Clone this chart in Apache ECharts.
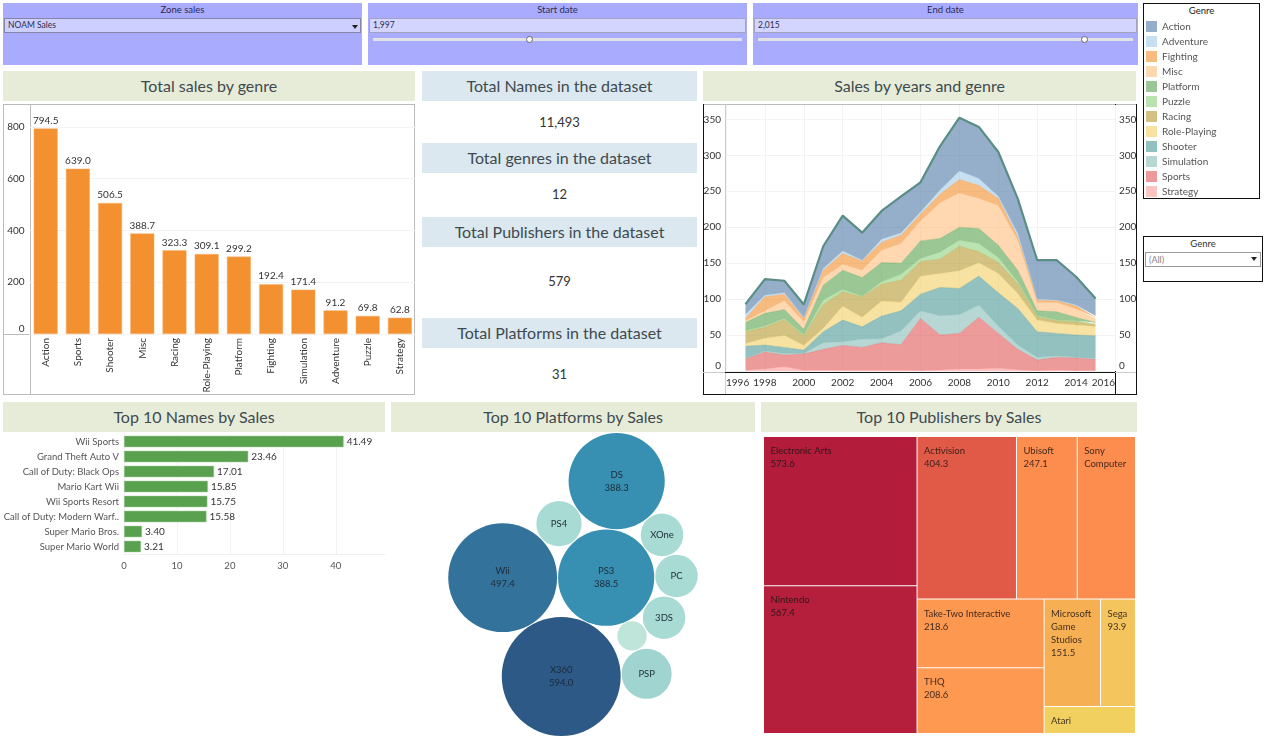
<!DOCTYPE html>
<html>
<head>
<meta charset="utf-8">
<title>Video game sales dashboard</title>
<script src="https://cdn.jsdelivr.net/npm/echarts@6/dist/echarts.min.js"></script>
<style>
  html, body { margin: 0; padding: 0; background: #fff; }
  body { width: 1266px; height: 737px; position: relative; overflow: hidden; font-family: Lato, sans-serif; color: #333; }
  #chart { position: absolute; left: 0; top: 0; width: 1266px; height: 737px; }
  .box { position: absolute; box-sizing: border-box; }
  .head { position: absolute; box-sizing: border-box; text-align: center; font-size: 16px; line-height: 30px; height: 30px; color: #3f4a50; }
  .green { background: #e7ecd9; }
  .blue { background: #dbe8ef; }
  .kpi { position: absolute; left: 422px; width: 275px; text-align: center; font-size: 13px; line-height: 16px; color: #333; }
  .card { position: absolute; top: 3px; height: 62px; background: #a9abff; }
  .card .name { text-align: center; font-size: 9.5px; line-height: 14px; color: #2b2b4d; }
  .field { position: absolute; box-sizing: border-box; height: 15px; top: 15px; font-size: 8.5px; line-height: 13px; padding-left: 3px; color: #2b2b4d; }
  .track { position: absolute; top: 35px; height: 3px; background: #e2e2e2; }
  .handle { position: absolute; top: 33px; width: 7px; height: 7px; box-sizing: border-box; border: 1px solid #666; border-radius: 50%; background: #fff; }
  .arrow { position: absolute; width: 0; height: 0; border-left: 3px solid transparent; border-right: 3px solid transparent; border-top: 4px solid #222; }
</style>
</head>
<body>

<!-- filter cards -->
<div class="card" style="left:3px;width:359px">
  <div class="name">Zone sales</div>
  <div class="field" style="left:1px;width:357px;background:#cdcfff;border:1px solid #8585a8">NOAM Sales</div>
  <div class="arrow" style="left:349px;top:22px"></div>
</div>
<div class="card" style="left:368px;width:379px">
  <div class="name">Start date</div>
  <div class="field" style="left:1px;width:377px;background:#d4d5ff;border:1px solid #a2a2c4">1,997</div>
  <div class="track" style="left:5px;width:369px"></div>
  <div class="handle" style="left:158px"></div>
</div>
<div class="card" style="left:753px;width:385px">
  <div class="name">End date</div>
  <div class="field" style="left:1px;width:383px;background:#d4d5ff;border:1px solid #a2a2c4">2,015</div>
  <div class="track" style="left:5px;width:375px"></div>
  <div class="handle" style="left:328px"></div>
</div>

<!-- genre legend frame and genre filter -->
<div class="box" style="left:1143px;top:3px;width:117px;height:196px;border:1px solid #111"></div>
<div class="box" style="left:1143px;top:4px;width:117px;text-align:center;font-size:9.5px;line-height:14px;color:#222">Genre</div>
<div class="box" style="left:1143px;top:236px;width:120px;height:46px;border:1px solid #111"></div>
<div class="box" style="left:1143px;top:237px;width:120px;text-align:center;font-size:9.5px;line-height:14px;color:#333">Genre</div>
<div class="box" style="left:1145px;top:252px;width:116px;height:15px;border:1px solid #999;font-size:9px;line-height:13px;padding-left:3px;color:#888">(All)</div>
<div class="arrow" style="left:1251px;top:257px"></div>

<!-- section headers -->
<div class="head green" style="left:3px;top:71px;width:412px">Total sales by genre</div>
<div class="head green" style="left:703px;top:71px;width:433px">Sales by years and genre</div>
<div class="head green" style="left:3px;top:402px;width:382px">Top 10 Names by Sales</div>
<div class="head green" style="left:391px;top:402px;width:364px">Top 10 Platforms by Sales</div>
<div class="head green" style="left:761px;top:402px;width:376px">Top 10 Publishers by Sales</div>
<div class="head blue" style="left:422px;top:71px;width:275px">Total Names in the dataset</div>
<div class="head blue" style="left:422px;top:143px;width:275px">Total genres in the dataset</div>
<div class="head blue" style="left:422px;top:217px;width:275px">Total Publishers in the dataset</div>
<div class="head blue" style="left:422px;top:318px;width:275px">Total Platforms in the dataset</div>
<div class="kpi" style="top:114px">11,493</div>
<div class="kpi" style="top:186px">12</div>
<div class="kpi" style="top:273px">579</div>
<div class="kpi" style="top:366px">31</div>

<!-- table panes behind the first bar chart -->
<div class="box" style="left:3px;top:104px;width:412px;height:291px;border:1px solid #bbb"></div>
<div class="box" style="left:30px;top:104px;width:1px;height:291px;background:#bbb"></div>
<div class="box" style="left:3px;top:334px;width:412px;height:1px;background:#bbb"></div>

<!-- table panes behind the area chart -->
<div class="box" style="left:703px;top:104px;width:434px;height:1px;background:#bbb"></div>
<div class="box" style="left:703px;top:104px;width:1px;height:291px;background:#111"></div>
<div class="box" style="left:1136px;top:104px;width:1px;height:291px;background:#111"></div>
<div class="box" style="left:1115px;top:104px;width:1px;height:291px;background:#111"></div>
<div class="box" style="left:725px;top:104px;width:1px;height:291px;background:#ccc"></div>
<div class="box" style="left:725px;top:372px;width:390px;height:1px;background:#111"></div>
<div class="box" style="left:703px;top:394px;width:434px;height:1px;background:#111"></div>
<div class="box" style="left:703px;top:372px;width:22px;height:1px;background:#ccc"></div>
<div class="box" style="left:1115px;top:372px;width:21px;height:1px;background:#ccc"></div>

<div id="chart"></div>

<script>
// total sales by genre
var barGenres = ['Action', 'Sports', 'Shooter', 'Misc', 'Racing', 'Role-Playing', 'Platform', 'Fighting', 'Simulation', 'Adventure', 'Puzzle', 'Strategy'];
var barSales = [794.5, 639.0, 506.5, 388.7, 323.3, 309.1, 299.2, 192.4, 171.4, 91.2, 69.8, 62.8];

// sales by year, one list per genre
var axisYears = ['1996', '1997', '1998', '1999', '2000', '2001', '2002', '2003', '2004', '2005', '2006', '2007', '2008', '2009', '2010', '2011', '2012', '2013', '2014', '2015', '2016'];
var years = ['1997', '1998', '1999', '2000', '2001', '2002', '2003', '2004', '2005', '2006', '2007', '2008', '2009', '2010', '2011', '2012', '2013', '2014', '2015'];
var actionSales = [14.4, 22.7, 16.7, 18.1, 31.0, 49.1, 38.4, 39.4, 50.9, 41.2, 61.1, 74.1, 71.8, 61.6, 48.6, 54.2, 55.6, 39.4, 24.1];
var adventureSales = [5.6, 1.9, 1.9, 1.4, 2.3, 3.7, 0.9, 4.2, 3.2, 3.2, 5.6, 12.0, 9.7, 3.2, 4.6, 1.4, 0.9, 1.4, 2.3];
var fightingSales = [3.2, 19.4, 9.3, 4.6, 10.2, 14.8, 13.0, 11.1, 11.6, 9.3, 12.0, 18.5, 18.1, 9.7, 4.6, 3.2, 2.3, 4.2, 2.3];
var miscSales = [2.3, 3.7, 12.0, 10.6, 10.6, 8.3, 10.2, 17.1, 27.3, 27.8, 49.5, 47.7, 41.7, 55.1, 41.7, 11.6, 13.0, 11.6, 4.6];
var platformSales = [11.6, 17.6, 12.5, 7.9, 20.8, 26.9, 25.9, 26.9, 15.3, 24.5, 19.0, 18.1, 20.8, 17.1, 16.2, 6.9, 11.6, 4.6, 1.9];
var puzzleSales = [1.4, 1.9, 1.4, 1.4, 6.0, 3.2, 0.9, 3.2, 8.3, 4.2, 9.7, 8.3, 11.6, 6.9, 2.3, 1.4, 0.9, 1.4, 0.9];
var racingSales = [16.2, 15.3, 22.2, 13.0, 33.3, 19.9, 28.2, 23.6, 30.6, 20.4, 19.9, 34.3, 15.3, 15.3, 13.9, 4.6, 3.7, 4.6, 2.8];
var rolePlayingSales = [3.7, 9.3, 16.7, 6.5, 4.6, 19.4, 13.4, 20.8, 12.0, 25.0, 19.4, 24.5, 18.5, 26.9, 20.8, 16.2, 13.9, 13.9, 13.0];
var shooterSales = [17.1, 8.3, 8.3, 4.6, 15.3, 30.1, 17.1, 31.5, 27.8, 23.1, 39.4, 36.1, 40.3, 46.3, 50.9, 35.6, 31.0, 31.0, 31.9];
var simulationSales = [0.9, 1.4, 2.3, 0.9, 9.3, 5.1, 11.6, 5.6, 19.4, 10.6, 26.9, 26.4, 17.1, 10.2, 6.0, 3.7, 2.3, 0.9, 0.9];
var sportsSales = [15.7, 23.6, 16.2, 22.7, 28.7, 34.7, 31.9, 38.4, 35.6, 72.7, 48.6, 49.5, 71.8, 48.6, 28.2, 14.8, 17.6, 17.6, 15.7];
var strategySales = [0.9, 2.8, 6.0, 0.9, 1.4, 0.9, 0.9, 0.9, 0.9, 0.5, 1.4, 2.8, 2.8, 3.7, 1.9, 0.5, 1.4, 0.5, 0.5];
var genreNames = ['Action', 'Adventure', 'Fighting', 'Misc', 'Platform', 'Puzzle', 'Racing', 'Role-Playing', 'Shooter', 'Simulation', 'Sports', 'Strategy'];
var genreSales = [actionSales, adventureSales, fightingSales, miscSales, platformSales, puzzleSales, racingSales, rolePlayingSales, shooterSales, simulationSales, sportsSales, strategySales];

// top names
var gameNames = ['Wii Sports', 'Grand Theft Auto V', 'Call of Duty: Black Ops', 'Mario Kart Wii', 'Wii Sports Resort', 'Call of Duty: Modern Warf..', 'Super Mario Bros.', 'Super Mario World'];
var gameSales = [41.49, 23.46, 17.01, 15.85, 15.75, 15.58, 3.40, 3.21];

// top platforms (the smallest bubble has no readable name in the picture)
var platformNames = ['Wii', 'PS3', 'X360', 'PS4', 'DS', 'XOne', 'PC', '3DS', '', 'PSP'];
var platformValues = [497.4, 388.5, 594.0, 86, 388.3, 76, 76, 76, 36, 105];

// top publishers (Sony Computer and Atari print no number, those two are estimated)
var publisherNames = ['Electronic Arts', 'Nintendo', 'Activision', 'Ubisoft', 'Sony Computer', 'Take-Two Interactive', 'THQ', 'Microsoft Game Studios', 'Sega', 'Atari'];
var publisherValues = [573.6, 567.4, 404.3, 247.1, 237, 218.6, 208.6, 151.5, 93.9, 62];

// styles
var FONT = 'Lato, sans-serif';
var GRID_LINE = '#f3f3f3';
var genreColors = ['#4e79a7', '#a0cbe8', '#f28e2b', '#ffbe7d', '#59a14f', '#8cd17d', '#b6992d', '#f1ce63', '#499894', '#86bcb6', '#e15759', '#ff9d9a'];
var legendColors = ['#94aecb', '#c6e0f1', '#f7bb80', '#ffd8b1', '#9bc796', '#bae3b1', '#d3c181', '#f7e2a1', '#92c1be', '#b6d7d3', '#ed9a9b', '#ffc4c2'];
var publisherColors = ['#b31c3b', '#b51f3c', '#e05a47', '#fc8d4e', '#fc8d4e', '#fd9850', '#fd9950', '#f6b053', '#f4c55d', '#f2d060'];
var bubbleColors = ['#33739b', '#3790b2', '#2d5986', '#a9dbd5', '#3790b2', '#a9dbd5', '#a9dbd5', '#a9dbd5', '#bfe4da', '#9fd4d0'];

// packed bubbles: radius from the value, each bubble placed touching two earlier ones
var BUBBLE_SCALE = 2.44;
var BUBBLE_GAP = 0.5;
var packOrder = [[3, 0, 1, 1], [2, 0, 1, -1], [4, 3, 1, 1], [5, 4, 1, 1], [6, 5, 1, 1], [7, 6, 1, 1], [8, 7, 1, 1], [9, 8, 2, 1]];

function bubbleRadius(value) {
    return BUBBLE_SCALE * Math.sqrt(value);
}

function packBubbles(values) {
    var circles = [];
    var r = values.map(function (v) { return bubbleRadius(v) + BUBBLE_GAP; });
    circles[0] = {x: 0, y: 0, r: r[0]};
    circles[1] = {x: r[0] + r[1], y: 0, r: r[1]};
    packOrder.forEach(function (step) {
        var a = circles[step[1]], b = circles[step[2]], rn = r[step[0]];
        var d = Math.hypot(b.x - a.x, b.y - a.y);
        var ux = (b.x - a.x) / d, uy = (b.y - a.y) / d;
        var da = a.r + rn, db = b.r + rn;
        var along = (da * da - db * db + d * d) / (2 * d);
        var h = Math.sqrt(Math.max(da * da - along * along, 0)) * step[3];
        circles[step[0]] = {x: a.x + along * ux - h * uy, y: a.y + along * uy + h * ux, r: rn};
    });
    // centre the cluster on the axes
    var x0 = Math.min.apply(null, circles.map(function (c) { return c.x - c.r; }));
    var x1 = Math.max.apply(null, circles.map(function (c) { return c.x + c.r; }));
    var y0 = Math.min.apply(null, circles.map(function (c) { return c.y - c.r; }));
    var y1 = Math.max.apply(null, circles.map(function (c) { return c.y + c.r; }));
    return circles.map(function (c) {
        return [c.x - (x0 + x1) / 2, c.y - (y0 + y1) / 2];
    });
}

var bubblePoints = packBubbles(platformValues);
var bubbleData = platformValues.map(function (v, i) {
    return {
        name: platformNames[i],
        value: [bubblePoints[i][0], bubblePoints[i][1], v],
        itemStyle: {color: bubbleColors[i]}
    };
});

// treemap leaves, nested so that the rows fall like the reference
function publisherLeaf(i) {
    var wrapped = publisherNames[i].replace('Sony Computer', 'Sony\nComputer').replace('Microsoft Game Studios', 'Microsoft\nGame\nStudios');
    var hasNumber = i !== 4 && i !== 9;
    return {
        name: publisherNames[i],
        value: publisherValues[i],
        itemStyle: {color: publisherColors[i]},
        label: {formatter: hasNumber ? wrapped + '\n' + publisherValues[i].toFixed(1) : wrapped}
    };
}

var publisherTree = [
    publisherLeaf(0), publisherLeaf(1),
    {name: 'rest', children: [
        publisherLeaf(2), publisherLeaf(3), publisherLeaf(4),
        {name: 'lower', children: [
            publisherLeaf(5), publisherLeaf(6),
            {name: 'corner', children: [publisherLeaf(7), publisherLeaf(8), publisherLeaf(9)]}
        ]}
    ]}
];

// stacked areas, Strategy at the bottom
var areaSeries = genreNames.map(function (name, i) {
    return {
        name: name,
        type: 'line',
        stack: 'sales',
        xAxisIndex: 1,
        yAxisIndex: 1,
        symbol: 'none',
        silent: true,
        data: axisYears.map(function (year) {
            var j = years.indexOf(year);
            return j < 0 ? null : genreSales[i][j];
        }),
        lineStyle: i === 0 ? {color: '#5a8d85', width: 2.2} : {color: genreColors[i], width: 0.6, opacity: 0.5},
        itemStyle: {color: genreColors[i]},
        areaStyle: {color: genreColors[i], opacity: 0.6}
    };
}).reverse();

var smallAxisText = {fontFamily: FONT, fontSize: 10, color: '#333'};

var option = {
    animation: false,
    textStyle: {fontFamily: FONT},
    legend: {
        left: 1146,
        top: 21,
        padding: 0,
        orient: 'vertical',
        itemWidth: 11,
        itemHeight: 11,
        itemGap: 4,
        selectedMode: false,
        textStyle: {fontFamily: FONT, fontSize: 10, color: '#555'},
        data: genreNames.map(function (name, i) {
            return {name: name, icon: 'rect', itemStyle: {color: legendColors[i], opacity: 1, borderWidth: 0}};
        })
    },
    grid: [
        {left: 29.6, top: 105, width: 386.4, height: 229},
        {left: 726, top: 105, width: 389, height: 266},
        {left: 124, top: 434, width: 261, height: 120},
        {left: 391, top: 432, width: 364, height: 305}
    ],
    xAxis: [
        {
            gridIndex: 0,
            type: 'category',
            data: barGenres,
            axisLine: {show: false},
            axisTick: {show: false},
            axisLabel: Object.assign({interval: 0, rotate: 90, margin: 4}, smallAxisText)
        },
        {
            gridIndex: 1,
            type: 'category',
            boundaryGap: false,
            data: axisYears,
            axisLine: {show: false},
            axisTick: {show: false},
            splitLine: {show: true, interval: 1, lineStyle: {color: GRID_LINE}},
            axisLabel: Object.assign({interval: 1, margin: 7, alignMinLabel: 'left', alignMaxLabel: 'right'}, smallAxisText)
        },
        {
            gridIndex: 2,
            type: 'value',
            min: 0,
            max: 49.3,
            interval: 10,
            axisLine: {show: true, lineStyle: {color: '#f0f0f0'}},
            axisTick: {show: false},
            splitLine: {show: true, showMaxLine: false, lineStyle: {color: GRID_LINE}},
            axisLabel: {showMaxLabel: false, margin: 7, fontFamily: FONT, fontSize: 9.5, color: '#555'}
        },
        {gridIndex: 3, type: 'value', show: false, min: -182, max: 182}
    ],
    yAxis: [
        {
            gridIndex: 0,
            type: 'value',
            min: 0,
            max: 885,
            interval: 200,
            axisLine: {show: false},
            axisTick: {show: false},
            splitLine: {show: true, showMaxLine: false, lineStyle: {color: GRID_LINE}},
            axisLabel: Object.assign({showMaxLabel: false, margin: 5, verticalAlignMinLabel: 'bottom'}, smallAxisText)
        },
        {
            gridIndex: 1,
            type: 'value',
            min: 0,
            max: 370,
            interval: 50,
            axisLine: {show: false},
            axisTick: {show: false},
            splitLine: {show: true, showMaxLine: false, lineStyle: {color: GRID_LINE}},
            axisLabel: Object.assign({showMaxLabel: false, margin: 5, verticalAlignMinLabel: 'bottom'}, smallAxisText)
        },
        {
            gridIndex: 1,
            type: 'value',
            position: 'right',
            min: 0,
            max: 370,
            interval: 50,
            axisLine: {show: false},
            axisTick: {show: false},
            splitLine: {show: false},
            axisLabel: Object.assign({showMaxLabel: false, margin: 4, verticalAlignMinLabel: 'bottom'}, smallAxisText)
        },
        {
            gridIndex: 2,
            type: 'category',
            inverse: true,
            data: gameNames,
            axisLine: {show: false},
            axisTick: {show: false},
            axisLabel: {interval: 0, margin: 5, fontFamily: FONT, fontSize: 9.5, color: '#555'}
        },
        {gridIndex: 3, type: 'value', show: false, min: -152.5, max: 152.5}
    ],
    series: [
        {
            type: 'bar',
            xAxisIndex: 0,
            yAxisIndex: 0,
            data: barSales,
            barWidth: 24,
            silent: true,
            itemStyle: {color: '#f39030', borderColor: '#f8b777', borderWidth: 0.5},
            label: {
                show: true,
                position: 'top',
                distance: 3,
                fontFamily: FONT,
                fontSize: 10,
                color: '#333',
                formatter: function (p) { return p.value.toFixed(1); }
            }
        }
    ].concat(areaSeries, [
        {
            type: 'bar',
            xAxisIndex: 2,
            yAxisIndex: 3,
            data: gameSales,
            barWidth: 11.5,
            silent: true,
            itemStyle: {color: '#59a14f', borderColor: '#a8d0a3', borderWidth: 0.5},
            label: {
                show: true,
                position: 'right',
                distance: 3,
                fontFamily: FONT,
                fontSize: 10,
                color: '#333',
                formatter: function (p) { return p.value.toFixed(2); }
            }
        },
        {
            type: 'scatter',
            xAxisIndex: 3,
            yAxisIndex: 4,
            silent: true,
            data: bubbleData,
            symbolSize: function (val) { return 2 * bubbleRadius(val[2]); },
            itemStyle: {opacity: 1},
            label: {
                show: true,
                position: 'inside',
                fontFamily: FONT,
                fontSize: 9.5,
                lineHeight: 13,
                color: '#1d2b36',
                formatter: function (p) {
                    return p.value[2] > 300 ? p.name + '\n' + p.value[2].toFixed(1) : p.name;
                }
            }
        },
        {
            type: 'treemap',
            left: 764,
            top: 437,
            width: 371,
            height: 296,
            roam: false,
            nodeClick: false,
            silent: true,
            sort: false,
            breadcrumb: {show: false},
            visibleMin: 0,
            itemStyle: {gapWidth: 1, borderWidth: 0, borderColor: '#fff'},
            label: {
                show: true,
                position: [1.5, 2.5],
                fontFamily: FONT,
                fontSize: 9.5,
                lineHeight: 13,
                color: 'rgba(30,20,20,0.85)',
                overflow: 'none'
            },
            data: publisherTree
        }
    ])
};

var chart = echarts.init(document.getElementById('chart'));
chart.setOption(option);
</script>
</body>
</html>
